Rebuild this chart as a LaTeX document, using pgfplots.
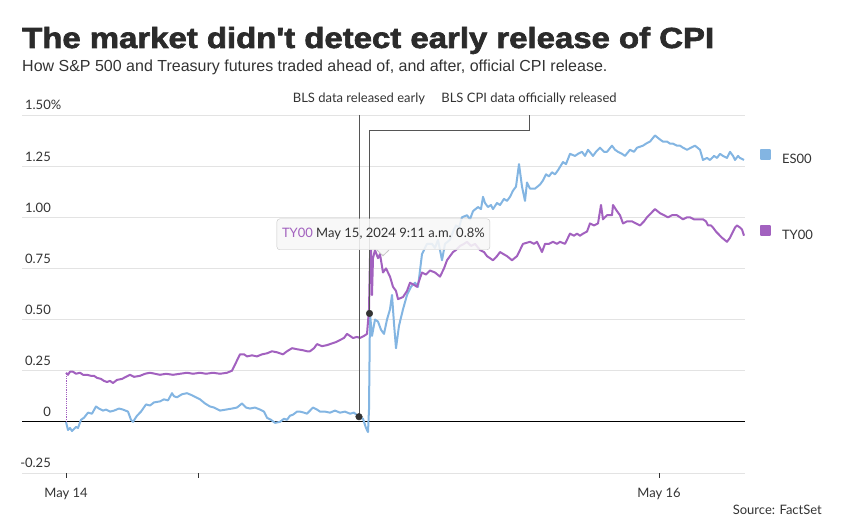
\documentclass[border=0pt]{standalone}
\usepackage{fontspec}
\setmainfont{Lato}
\newfontfamily\titlefont{Liberation Sans Bold}[FakeBold=2.2]
\newfontfamily\subfont{Liberation Sans}
\usepackage{pgfplots}
\pgfplotsset{compat=1.18}

\definecolor{es}{HTML}{83B5E2}
\definecolor{ty}{HTML}{A261BF}
\definecolor{txt}{HTML}{333333}
\definecolor{gridc}{HTML}{E3E3E3}
\definecolor{ann}{HTML}{555555}

\begin{document}
\begin{tikzpicture}[x=1pt,y=1pt]
\path[use as bounding box] (0,0) rectangle (847,529);

\node[anchor=base west, inner sep=0pt, text=txt!85!black, font=\titlefont\fontsize{29}{29}\selectfont] at (22,481)
  {\scalebox{1.135}[1]{The market didn't detect early release of CPI}};
\node[anchor=base west, inner sep=0pt, text=txt, font=\subfont\fontsize{16}{16}\selectfont] at (22,457)
  {How S\&P 500 and Treasury futures traded ahead of, and after, official CPI release.};
\node[anchor=base east, inner sep=0pt, text=txt, font=\fontsize{13}{13}\selectfont] at (822,14)
  {Source: FactSet};

\begin{axis}[
    at={(22pt,56pt)}, anchor=south west,
    scale only axis, width=723pt, height=358pt,
    xmin=-44, xmax=679, ymin=-0.25, ymax=1.5,
    clip=false,
    axis line style={draw=none},
    ytick={-0.25,0,0.25,0.5,0.75,1,1.25,1.5},
    yticklabels={-0.25,0,0.25,0.50,0.75,1.00,1.25,1.50\rlap{\%}},
    ytick style={draw=none},
    ymajorgrids, grid style={gridc, line width=0.9pt},
    extra y ticks={0}, extra y tick labels={},
    extra y tick style={grid style={black, line width=1pt}, ytick style={draw=none}},
    yticklabel style={anchor=base east, inner sep=0pt, xshift=34pt, yshift=5pt},
    xtick={0,132,593}, xticklabels={May 14,,May 16},
    xtick pos=lower, tick align=outside, major tick length=5pt,
    xtick style={txt, line width=0.8pt},
    xticklabel style={anchor=base, inner sep=0pt, yshift=-20pt},
    tick label style={font=\fontsize{13}{13}\selectfont, text=txt},
    legend style={at={(axis cs:694,1.332)}, anchor=north west, draw=none, fill=none,
        inner sep=0pt, outer sep=0pt, row sep=61.4pt, column sep=11pt,
        font=\fontsize{13}{13}\selectfont, text=txt,
        nodes={inner sep=0pt, text height=9pt, text depth=0pt}},
    legend cell align=left,
    legend image code/.code={\fill[#1] (0pt,0pt) rectangle (9pt,9pt);},
]

% ES00 (S&P 500 futures), % change
\addplot[color=es, line width=2pt, line join=round] coordinates {
(0,0.00)(2,-0.04)(4,-0.03)(6,-0.045)(8,-0.035)(10,-0.025)(12,-0.03)(15,0.01)
(18,0.02)(22,0.045)(26,0.04)(30,0.075)(33,0.065)(37,0.055)(40,0.06)
(44,0.05)(48,0.055)(53,0.065)(57,0.06)(62,0.05)(65,0.01)(67,0.0)(71,0.03)
(75,0.05)(80,0.085)(84,0.08)(88,0.095)(94,0.10)(98,0.11)(102,0.105)
(106,0.14)(108,0.125)(111,0.12)(116,0.135)(121,0.14)(126,0.13)(130,0.12)
(134,0.11)(139,0.09)(144,0.075)(148,0.07)(154,0.055)(160,0.06)(166,0.065)
(171,0.07)(176,0.09)(180,0.07)(184,0.065)(189,0.07)(194,0.06)(198,0.05)
(201,0.02)(205,0.01)(209,-0.005)(214,0.0)(218,0.015)(221,0.01)
(224,0.03)(227,0.035)(231,0.05)(234,0.05)(238,0.045)(241,0.04)(244,0.055)
(247,0.07)(251,0.06)(254,0.05)(259,0.05)(264,0.045)(269,0.055)(274,0.045)
(279,0.05)(284,0.04)(288,0.045)(293,0.025)(297,0.015)(300,-0.03)(302,-0.05)
(303,0.06)(304,0.53)(306,0.42)(309,0.50)(312,0.49)(315,0.45)(318,0.43)
(321,0.50)(324,0.55)(326,0.62)(328,0.48)(330,0.36)(333,0.47)(337,0.55)
(341,0.62)(345,0.66)(349,0.68)(352,0.66)(356,0.82)(361,0.87)(366,0.87)
(369,0.85)(372,0.89)(376,0.79)(379,0.87)(384,0.89)(387,0.93)(390,0.96)
(393,0.95)(396,1.00)(401,1.01)(404,0.99)(407,1.03)(412,1.05)(415,1.04)
(417,1.10)(419,1.07)(422,1.05)(425,1.06)(427,1.04)(431,1.07)(434,1.06)
(438,1.09)(441,1.08)(444,1.10)(447,1.13)(450,1.15)(453,1.26)(456,1.15)
(459,1.08)(461,1.17)(464,1.14)(469,1.14)(474,1.16)(477,1.18)(480,1.21)
(483,1.20)(486,1.22)(489,1.21)(492,1.23)(497,1.27)(500,1.26)(504,1.31)
(509,1.30)(512,1.31)(516,1.32)(519,1.30)(522,1.33)(527,1.30)(530,1.32)
(534,1.34)(538,1.32)(541,1.32)(546,1.35)(549,1.33)(552,1.32)(556,1.31)
(559,1.30)(564,1.33)(568,1.32)(571,1.34)(577,1.35)(580,1.36)(584,1.37)
(589,1.40)(594,1.38)(597,1.37)(601,1.37)(604,1.36)(607,1.36)(611,1.35)
(614,1.35)(617,1.34)(621,1.33)(625,1.34)(629,1.35)(634,1.33)(637,1.28)
(641,1.29)(644,1.28)(648,1.30)(651,1.29)(654,1.31)(657,1.30)(661,1.29)
(664,1.32)(667,1.30)(669,1.28)(672,1.30)(674,1.29)(678,1.28)
};
\addlegendentry{ES00}

% TY00 (10-year Treasury futures), % change
\addplot[color=ty, line width=2pt, line join=round] coordinates {
(0,0.24)(2,0.23)(4,0.245)(7,0.245)(10,0.235)(14,0.24)(17,0.23)(21,0.23)
(25,0.225)(28,0.225)(31,0.215)(35,0.21)(38,0.20)(41,0.195)(44,0.2)(47,0.19)
(51,0.205)(56,0.21)(60,0.22)(64,0.23)(68,0.22)(74,0.225)(79,0.235)(84,0.24)
(89,0.235)(94,0.23)(100,0.235)(107,0.23)(114,0.235)(121,0.24)(127,0.235)
(134,0.24)(140,0.235)(147,0.24)(154,0.235)(161,0.24)(166,0.25)(169,0.28)
(171,0.30)(174,0.33)(178,0.33)(181,0.32)(186,0.325)(191,0.32)(196,0.33)
(201,0.335)(206,0.345)(211,0.34)(217,0.33)(221,0.345)(226,0.36)(231,0.355)
(237,0.35)(241,0.345)(244,0.345)(248,0.36)(251,0.38)(256,0.37)(261,0.375)
(267,0.385)(270,0.39)(274,0.40)(278,0.41)(281,0.43)(284,0.42)(287,0.41)
(291,0.415)(294,0.41)(298,0.42)(301,0.43)(303,0.55)(304,0.80)(305,0.84)
(306,0.62)(307,0.80)(309,0.84)(312,0.80)(314,0.82)(317,0.73)(320,0.75)
(324,0.71)(327,0.66)(330,0.64)(332,0.60)(337,0.61)(341,0.64)(344,0.68)
(348,0.67)(351,0.66)(356,0.73)(360,0.72)(364,0.74)(369,0.73)(374,0.71)
(378,0.75)(381,0.79)(387,0.83)(390,0.84)(394,0.86)(398,0.87)(401,0.88)
(405,0.86)(409,0.87)(414,0.84)(418,0.83)(421,0.81)(427,0.79)(431,0.81)
(434,0.83)(441,0.81)(446,0.79)(451,0.81)(454,0.84)(457,0.87)(464,0.88)
(468,0.87)(471,0.88)(476,0.83)(479,0.87)(483,0.87)(487,0.88)(491,0.87)
(494,0.88)(499,0.87)(504,0.92)(508,0.91)(511,0.92)(514,0.91)(517,0.92)
(521,0.93)(524,0.97)(528,0.96)(532,0.97)(535,1.06)(537,0.99)(541,1.01)
(546,1.01)(547,1.06)(551,1.03)(554,1.01)(557,0.97)(561,0.98)(566,0.98)
(570,0.97)(574,0.96)(578,0.98)(581,1.00)(585,1.02)(589,1.04)(594,1.02)
(598,1.01)(602,1.00)(606,1.01)(611,1.01)(614,1.00)(617,0.99)(621,1.00)
(624,1.00)(628,0.99)(631,0.99)(634,0.99)(637,0.99)(640,0.98)(642,0.96)
(645,0.96)(647,0.95)(650,0.93)(652,0.92)(656,0.90)(661,0.88)(664,0.90)
(666,0.92)(669,0.95)(671,0.96)(674,0.95)(676,0.94)(678,0.91)
};
\addlegendentry{TY00}

\addplot[color=ty, densely dotted, line width=0.8pt, forget plot] coordinates {(0,0)(0,0.24)};

% release markers
\draw[ann, line width=1pt] (axis cs:293,1.5) -- (axis cs:293,0.025);
\draw[ann, line width=1pt] (axis cs:303.5,0.53) -- (axis cs:303.5,1.423)
    -- (axis cs:463.3,1.423) -- (axis cs:463.3,1.5);
\addplot[only marks, mark=*, mark size=3.3pt, color=txt, forget plot]
    coordinates {(293,0.025)(303.5,0.53)};
\node[anchor=base, inner sep=0pt, text=txt, font=\fontsize{13}{13}\selectfont]
    at (axis cs:293,1.559) {BLS data released early};
\node[anchor=base, inner sep=0pt, text=txt, font=\fontsize{13}{13}\selectfont]
    at (axis cs:463,1.559) {BLS CPI data officially released};

% tooltip
\node[anchor=north west, draw=gray!45, fill=gray!6, fill opacity=0.88, text opacity=1,
    rounded corners=3pt, minimum width=213pt, minimum height=31pt, inner sep=0pt,
    font=\fontsize{13}{13}\selectfont, text=txt]
    at (axis cs:210.7,0.9936) {\textcolor{ty}{TY00} May 15, 2024 9:11 a.m. 0.8\%};
\fill[gray!6] (axis cs:311,0.8420) -- (axis cs:317,0.812) -- (axis cs:323,0.8420) -- cycle;
\draw[gray!45, line width=0.8pt] (axis cs:311,0.8397) -- (axis cs:317,0.812) -- (axis cs:323,0.8397);
\end{axis}
\end{tikzpicture}
\end{document}
